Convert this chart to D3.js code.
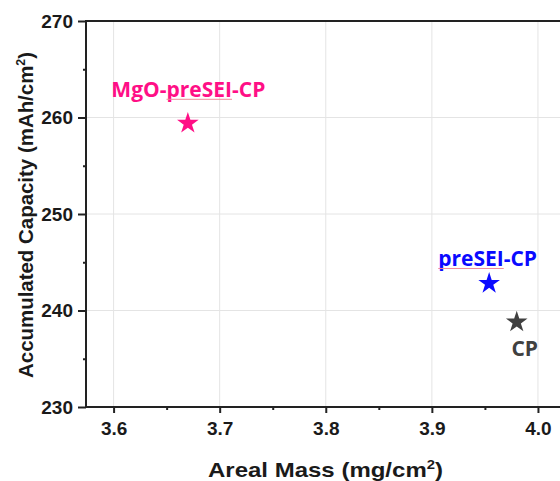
<!DOCTYPE html>
<html>
<head>
<meta charset="utf-8">
<script src="https://cdn.jsdelivr.net/npm/d3@7"></script>
<style>
  body { margin: 0; background: #fff; overflow: hidden; }
  svg { display: block; }
</style>
</head>
<body>
<script>
// data
var samples = ["MgO-preSEI-CP", "preSEI-CP", "CP"];
var arealMass = [3.670, 3.954, 3.980];
var capacity = [259.4, 242.8, 238.8];
var colors = ["#ff0f86", "#0a0aff", "#404040"];
var xTicks = [3.6, 3.7, 3.8, 3.9, 4.0];
var yTicks = [230, 240, 250, 260, 270];

var width = 560,
    height = 481;
var margin = {left: 86, top: 21, right: -31, bottom: 74};

var svg = d3.select("body")
    .append("svg")
    .attr("width", width)
    .attr("height", height);

var x = d3.scaleLinear()
    .domain([3.574, 4.05])
    .range([margin.left, width - margin.right]);

var y = d3.scaleLinear()
    .domain([230, 270])
    .range([height - margin.bottom, margin.top]);

var x0 = x.range()[0], x1 = x.range()[1];
var y0 = y.range()[0], y1 = y.range()[1];

// grid
var grid = svg.append("g").attr("stroke", "#e4e4e4").attr("stroke-width", 1);
grid.selectAll(".gx")
    .data(xTicks)
    .enter()
    .append("line")
    .attr("x1", d => x(d)).attr("x2", d => x(d))
    .attr("y1", y1).attr("y2", y0);
grid.selectAll(".gy")
    .data(yTicks.slice(1, -1))
    .enter()
    .append("line")
    .attr("x1", x0).attr("x2", x1)
    .attr("y1", d => y(d)).attr("y2", d => y(d));

// axes
var font = "'Liberation Sans', Arial, sans-serif";

var xAxis = svg.append("g")
    .attr("transform", "translate(0," + y0 + ")")
    .call(d3.axisBottom(x).tickValues(xTicks).tickSize(6).tickPadding(9).tickFormat(d3.format(".1f")));
var xMinor = svg.append("g")
    .attr("transform", "translate(0," + y0 + ")")
    .call(d3.axisBottom(x).tickValues([3.65, 3.75, 3.85, 3.95, 4.05]).tickSize(3).tickFormat(""));

var yAxis = svg.append("g")
    .attr("transform", "translate(" + x0 + ",0)")
    .call(d3.axisLeft(y).tickValues(yTicks).tickSize(8).tickPadding(5));
var yMinor = svg.append("g")
    .attr("transform", "translate(" + x0 + ",0)")
    .call(d3.axisLeft(y).tickValues([235, 245, 255, 265]).tickSize(3).tickFormat(""));

[xAxis, xMinor, yAxis, yMinor].forEach(function(a) {
    a.select(".domain").remove();
    a.selectAll("line").attr("stroke", "#222").attr("stroke-width", 2);
    a.selectAll("text")
        .attr("fill", "#1a1a1a")
        .style("font-family", font)
        .style("font-weight", "bold")
        .style("font-size", "19px");
});

// frame
svg.append("rect")
    .attr("x", x0).attr("y", y1)
    .attr("width", x1 - x0).attr("height", y0 - y1)
    .attr("fill", "none")
    .attr("stroke", "#222")
    .attr("stroke-width", 2);

// axis titles
var xt = svg.append("text")
    .attr("x", 208).attr("y", 477)
    .attr("textLength", 235)
    .attr("lengthAdjust", "spacingAndGlyphs")
    .attr("fill", "#1a1a1a")
    .style("font-family", font).style("font-weight", "bold").style("font-size", "21px");
xt.append("tspan").text("Areal Mass (mg/cm");
xt.append("tspan").attr("dy", -8).style("font-size", "13px").text("2");
xt.append("tspan").attr("dy", 8).text(")");

var yt = svg.append("text")
    .attr("transform", "translate(33,378) rotate(-90)")
    .attr("textLength", 326)
    .attr("lengthAdjust", "spacingAndGlyphs")
    .attr("fill", "#1a1a1a")
    .style("font-family", font).style("font-weight", "bold").style("font-size", "20px");
yt.append("tspan").text("Accumulated Capacity (mAh/cm");
yt.append("tspan").attr("dy", -8).style("font-size", "12px").text("2");
yt.append("tspan").attr("dy", 8).text(")");

// points
var star = d3.symbol().type(d3.symbolStar).size(145);
svg.selectAll(".pt")
    .data(samples)
    .enter()
    .append("path")
    .attr("d", star)
    .attr("transform", (d, i) => "translate(" + x(arealMass[i]) + "," + y(capacity[i]) + ")")
    .attr("fill", (d, i) => colors[i]);

// labels
var labelOffset = [[0.5, -26], [-1.5, -17], [8, 34]];
var labelFont = "'Open Sans', 'Noto Sans', sans-serif";
samples.forEach(function(s, i) {
    var lx = x(arealMass[i]) + labelOffset[i][0],
        ly = y(capacity[i]) + labelOffset[i][1];
    var t = svg.append("text")
        .attr("x", lx).attr("y", ly)
        .attr("text-anchor", "middle")
        .attr("fill", colors[i])
        .style("font-family", labelFont)
        .style("font-weight", "bold")
        .style("font-size", "21px")
        .text(s);
    // spell-check squiggle under "preSEI"
    var k = s.indexOf("preSEI");
    if (k >= 0) {
        var node = t.node();
        var total = node.getComputedTextLength();
        var start = lx - total / 2 + node.getSubStringLength(0, k);
        var len = node.getSubStringLength(k, 6);
        svg.append("line")
            .attr("x1", start).attr("x2", start + len)
            .attr("y1", ly + 2).attr("y2", ly + 2)
            .attr("stroke", "#f08a9a")
            .attr("stroke-width", 1);
    }
});
</script>
</body>
</html>
